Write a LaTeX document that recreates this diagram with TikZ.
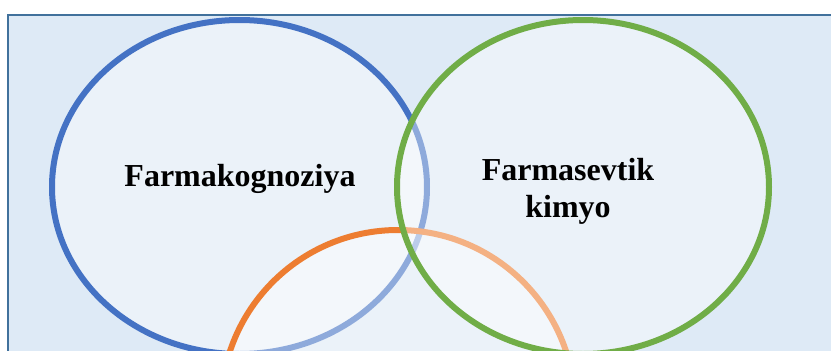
\documentclass[tikz,border=0pt]{standalone}
\usepackage{fontspec}
\setmainfont{Liberation Serif}
\definecolor{frameblue}{HTML}{41719C}
\definecolor{bgblue}{HTML}{DEEAF6}
\definecolor{cblue}{HTML}{4472C4}
\definecolor{cgreen}{HTML}{70AD47}
\definecolor{corange}{HTML}{ED7D31}
\tikzset{
  setshape/.style={fill=white, fill opacity=0.4, draw opacity=1, line width=6pt},
  label/.style={font=\fontsize{32}{37}\selectfont\bfseries, text=black, align=center, inner sep=0pt, anchor=base}
}
\begin{document}
\begin{tikzpicture}[x=1pt,y=-1pt]
\useasboundingbox (0,0) rectangle (831,351);
\fill[white] (0,0) rectangle (831,351);
\begin{scope}
\clip (0,0) rectangle (831,351);
\draw[frameblue, line width=2pt, fill=bgblue] (8,14.5) rectangle (860,420);
\draw[setshape, draw=cblue] (239.5,187) ellipse [x radius=187.5, y radius=167];
\draw[setshape, draw=corange] (398,407) ellipse [x radius=177, y radius=177];
\draw[setshape, draw=cgreen] (583,187) ellipse [x radius=186, y radius=167];
\end{scope}
\node[label] (farmakog) at (240,186) {Farmakognoziya};
\node[label] (farmasev) at (568,217) {Farmasevtik\\kimyo};
\end{tikzpicture}
\end{document}
